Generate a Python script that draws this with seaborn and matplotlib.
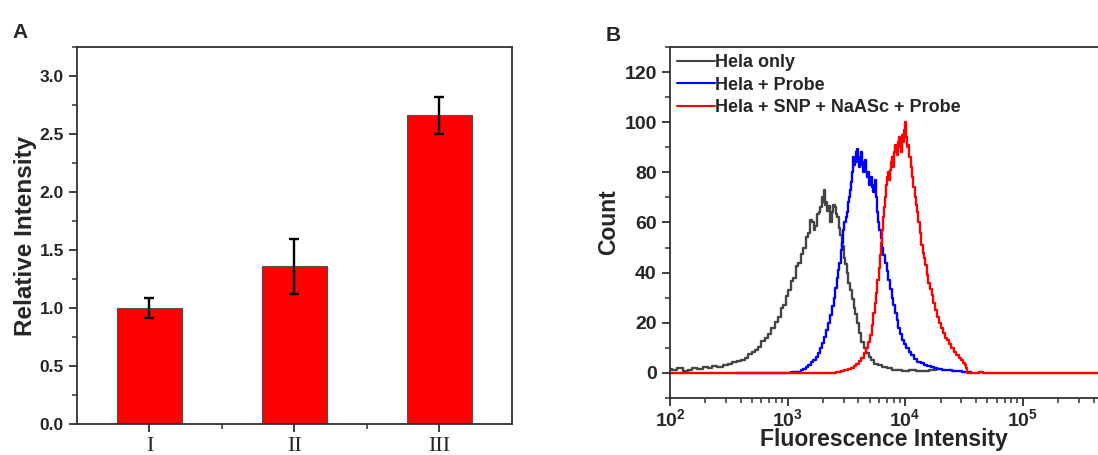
import numpy as np
import pandas as pd
import matplotlib
matplotlib.use("Agg")
import matplotlib.pyplot as plt
from matplotlib.ticker import MultipleLocator, LogLocator, NullFormatter
import seaborn as sns

# panel A: relative intensity bars
groups = ["I", "II", "III"]
rel_mean = [1.00, 1.36, 2.66]
rel_err = [0.085, 0.235, 0.158]

# panel B: flow cytometry histograms (log10 intensity, count)
hela_logx = [2.00, 2.04, 2.085, 2.13, 2.17, 2.21, 2.254, 2.30, 2.34, 2.38, 2.424, 2.47,
             2.51, 2.55, 2.593, 2.62, 2.65, 2.68, 2.706, 2.735, 2.763, 2.79, 2.82, 2.85,
             2.876, 2.905, 2.932, 2.955, 2.975, 2.995, 3.017, 3.04, 3.06, 3.08, 3.102, 3.125,
             3.144, 3.165, 3.186, 3.20, 3.215, 3.23, 3.243, 3.258, 3.271, 3.283, 3.294, 3.303,
             3.311, 3.32, 3.328, 3.342, 3.356, 3.37, 3.384, 3.395, 3.407, 3.417, 3.427, 3.441,
             3.455, 3.469, 3.483, 3.497, 3.511, 3.525, 3.54, 3.554, 3.568, 3.582, 3.596, 3.617,
             3.638, 3.66, 3.68, 3.70, 3.723, 3.75, 3.78, 3.82, 3.864, 3.91, 3.95, 4.00,
             4.062, 4.12, 4.175, 4.23, 4.288]
hela_count = [1.5, 1.0, 1.8, 0.8, 1.2, 2.0, 1.4, 2.2, 1.8, 2.6, 2.4, 3.2,
              3.5, 4.2, 4.8, 5.2, 6.0, 7.4, 8.5, 9.2, 10.5, 12.6, 14.0, 15.5,
              18.0, 20.4, 22.5, 25.8, 27.0, 30.5, 33.0, 36.8, 38.0, 42.5, 44.0, 47.6,
              50.0, 54.2, 56.0, 61.0, 60.0, 57.0, 58.5, 63.5, 64.0, 66.0, 70.0, 68.0,
              73.0, 67.0, 68.0, 64.5, 66.5, 60.0, 64.0, 67.0, 66.0, 63.5, 62.0, 58.0,
              55.0, 50.5, 46.0, 43.5, 40.0, 36.0, 33.0, 29.5, 26.0, 23.5, 20.0, 16.0,
              12.5, 10.0, 8.0, 6.5, 5.0, 3.6, 3.0, 2.2, 1.8, 1.2, 1.0, 0.6,
              1.3, 0.7, 0.8, 1.2, 1.5]

probe_logx = [2.565, 2.70, 2.85, 2.989, 3.06, 3.102, 3.125, 3.144, 3.165, 3.186, 3.208, 3.229,
              3.25, 3.271, 3.288, 3.305, 3.322, 3.339, 3.355, 3.37, 3.384, 3.398, 3.413, 3.427,
              3.436, 3.446, 3.458, 3.469, 3.479, 3.489, 3.498, 3.508, 3.517, 3.525, 3.533, 3.542,
              3.55, 3.559, 3.567, 3.576, 3.585, 3.593, 3.601, 3.61, 3.618, 3.627, 3.635, 3.644,
              3.652, 3.661, 3.669, 3.678, 3.686, 3.695, 3.703, 3.712, 3.72, 3.729, 3.737, 3.746,
              3.754, 3.763, 3.774, 3.785, 3.796, 3.808, 3.822, 3.836, 3.85, 3.864, 3.878, 3.893,
              3.907, 3.921, 3.935, 3.949, 3.966, 3.983, 4.00, 4.02, 4.04, 4.062, 4.09, 4.119,
              4.147, 4.175, 4.20, 4.232, 4.26, 4.288, 4.33, 4.373, 4.415, 4.458, 4.50, 4.542,
              4.571]
probe_count = [0.0, 0.0, 0.0, 0.0, 0.3, 0.5, 1.0, 1.5, 2.2, 3.0, 4.2, 5.0,
               6.5, 8.0, 10.0, 12.0, 14.5, 17.0, 20.0, 23.0, 26.5, 30.0, 34.0, 38.0,
               41.0, 44.0, 49.0, 52.0, 57.0, 60.0, 62.0, 64.0, 68.0, 70.0, 73.0, 76.0,
               80.0, 86.0, 83.0, 84.0, 88.0, 89.5, 84.0, 82.0, 86.0, 88.0, 83.0, 80.0,
               84.0, 85.0, 80.0, 78.0, 80.0, 75.0, 77.0, 78.0, 74.0, 72.0, 75.0, 77.0,
               70.0, 64.0, 60.0, 57.0, 54.0, 50.0, 47.0, 44.0, 40.5, 37.0, 33.5, 30.0,
               27.0, 24.0, 21.0, 18.0, 15.5, 13.0, 11.5, 10.0, 8.5, 7.0, 5.5, 4.5,
               3.8, 3.0, 2.8, 2.5, 1.8, 1.5, 1.2, 1.0, 0.6, 0.8, 0.4, 0.3,
               0.0]

snp_logx = [2.00, 2.60, 3.20, 3.384, 3.441, 3.47, 3.497, 3.525, 3.554, 3.575, 3.596, 3.617,
            3.638, 3.66, 3.68, 3.695, 3.709, 3.723, 3.737, 3.747, 3.757, 3.768, 3.78, 3.79,
            3.799, 3.809, 3.819, 3.828, 3.836, 3.845, 3.853, 3.862, 3.87, 3.879, 3.887, 3.896,
            3.904, 3.913, 3.921, 3.93, 3.938, 3.947, 3.955, 3.964, 3.972, 3.981, 3.989, 3.998,
            4.006, 4.015, 4.023, 4.032, 4.04, 4.051, 4.062, 4.074, 4.085, 4.096, 4.107, 4.119,
            4.13, 4.142, 4.153, 4.164, 4.175, 4.189, 4.203, 4.218, 4.232, 4.249, 4.266, 4.283,
            4.30, 4.316, 4.333, 4.35, 4.367, 4.384, 4.401, 4.422, 4.444, 4.465, 4.486, 4.50,
            4.514, 4.52, 4.525, 4.60, 4.655, 4.67, 4.684, 5.00, 5.70]
snp_count = [0.0, 0.0, 0.0, 0.0, 0.5, 0.7, 1.0, 1.5, 2.0, 2.8, 3.5, 4.8,
             6.0, 8.0, 10.0, 12.5, 15.0, 19.0, 24.0, 28.0, 32.0, 37.0, 42.0, 47.0,
             52.0, 57.0, 62.0, 66.0, 70.0, 75.0, 78.0, 80.0, 77.0, 81.0, 84.0, 86.0,
             82.0, 88.0, 91.0, 89.0, 87.0, 92.0, 94.0, 90.0, 88.0, 95.0, 92.0, 97.0,
             100.0, 94.0, 90.0, 91.0, 86.0, 82.0, 78.0, 74.0, 70.0, 67.0, 64.0, 60.0,
             56.0, 51.0, 48.0, 46.0, 43.0, 39.0, 36.0, 33.5, 31.0, 28.0, 25.0, 22.5,
             20.0, 18.0, 16.0, 14.0, 13.0, 11.5, 10.0, 8.5, 7.0, 6.0, 5.0, 4.0,
             3.0, 2.0, 0.0, 0.0, 0.5, 0.0, 0.0, 0.0, 0.0]

labels = ["Hela only", "Hela + Probe", "Hela + SNP + NaASc + Probe"]
colors = ["#454545", "#0000ff", "#ff0000"]

sns.set_style("ticks")
plt.rcParams['font.family'] = ['Liberation Sans', 'DejaVu Sans']
plt.rcParams['font.weight'] = 'bold'
plt.rcParams['mathtext.fontset'] = 'custom'
plt.rcParams['mathtext.bf'] = 'Liberation Sans:bold'
plt.rcParams['mathtext.rm'] = 'Liberation Sans:bold'
plt.rcParams['mathtext.default'] = 'bf'

fig = plt.figure(figsize=(10.98, 4.55), dpi=100)
axA = fig.add_axes([0.0701, 0.0681, 0.3962, 0.8286])
axB = fig.add_axes([0.6102, 0.1253, 0.3898, 0.7714])

spine_col = "#303030"

# ---- panel A ----
dfA = pd.DataFrame({"group": groups, "value": rel_mean})
sns.barplot(data=dfA, x="group", y="value", color="#ff0000", saturation=1,
            width=0.45, edgecolor="#505050", linewidth=0.8, errorbar=None, ax=axA)
axA.errorbar(range(len(groups)), rel_mean, yerr=rel_err, fmt="none",
             ecolor="black", elinewidth=1.7, capsize=3.8, capthick=1.7)
axA.set_xlim(-0.5, 2.5)
axA.set_ylim(0, 3.25)
axA.yaxis.set_major_locator(MultipleLocator(0.5))
axA.yaxis.set_minor_locator(MultipleLocator(0.25))
axA.set_xticks([0.5, 1.5], minor=True)
axA.set_xlabel("")
axA.set_ylabel("Relative Intensity", fontsize=17.5, fontweight="bold", labelpad=2)
axA.set_yticks([0, 0.5, 1.0, 1.5, 2.0, 2.5, 3.0])
axA.set_yticklabels(["0.0", "0.5", "1.0", "1.5", "2.0", "2.5", "3.0"], fontsize=12.5, fontweight="bold")
axA.set_xticks(range(len(groups)))
axA.set_xticklabels(groups, fontsize=16, fontweight="normal", family="Liberation Serif")

# ---- panel B ----
frames = []
for lab, lx, cnt in zip(labels, [hela_logx, probe_logx, snp_logx],
                        [hela_count, probe_count, snp_count]):
    frames.append(pd.DataFrame({"intensity": np.power(10.0, lx), "count": cnt, "sample": lab}))
dfB = pd.concat(frames, ignore_index=True)
sns.lineplot(data=dfB, x="intensity", y="count", hue="sample", hue_order=labels,
             palette=colors, estimator=None, sort=False, linewidth=1.7,
             drawstyle="steps-mid", ax=axB)
axB.set_xscale("log")
axB.set_xlim(100, 10 ** 5.64)
axB.set_ylim(-10, 130)
axB.yaxis.set_major_locator(MultipleLocator(20))
axB.yaxis.set_minor_locator(MultipleLocator(10))
axB.set_yticks([0, 20, 40, 60, 80, 100, 120])
axB.set_yticklabels(["0", "20", "40", "60", "80", "100", "120"], fontsize=14, fontweight="bold")
axB.set_xticks([1e2, 1e3, 1e4, 1e5])
axB.set_xticklabels([r"$\mathbf{10^{2}}$", r"$\mathbf{10^{3}}$", r"$\mathbf{10^{4}}$",
                     r"$\mathbf{10^{5}}$"], fontsize=14)
axB.xaxis.set_minor_locator(LogLocator(base=10, subs=np.arange(2, 10), numticks=20))
axB.xaxis.set_minor_formatter(NullFormatter())
axB.tick_params(axis="x", which="major", pad=1)
axB.set_xlabel("Fluorescence Intensity", fontsize=16.5, fontweight="bold", labelpad=-1)
axB.set_ylabel("Count", fontsize=16.5, fontweight="bold", labelpad=3)
axB.spines["right"].set_visible(False)
leg = axB.legend(loc="upper left", bbox_to_anchor=(0.0, 1.0), frameon=False,
                 fontsize=13, handlelength=2.1, handletextpad=0.0, labelspacing=0.3,
                 borderaxespad=0.2, borderpad=0.2)
for t in leg.get_texts():
    t.set_fontweight("bold")
for h in leg.get_lines():
    h.set_linewidth(1.5)

for ax in (axA, axB):
    for s in ax.spines.values():
        s.set_color(spine_col)
        s.set_linewidth(1.3)
    ax.tick_params(which="major", direction="out", length=6, width=1.3, color=spine_col,
                   top=False, right=False)
    ax.tick_params(which="minor", direction="out", length=3.5, width=1.1, color=spine_col,
                   top=False, right=False)
axB.tick_params(axis="x", which="major", pad=1)

fig.text(0.011, 0.917, "A", fontsize=15, fontweight="bold")
fig.text(0.552, 0.91, "B", fontsize=15, fontweight="bold")

fig.savefig("out.png", dpi=100)
